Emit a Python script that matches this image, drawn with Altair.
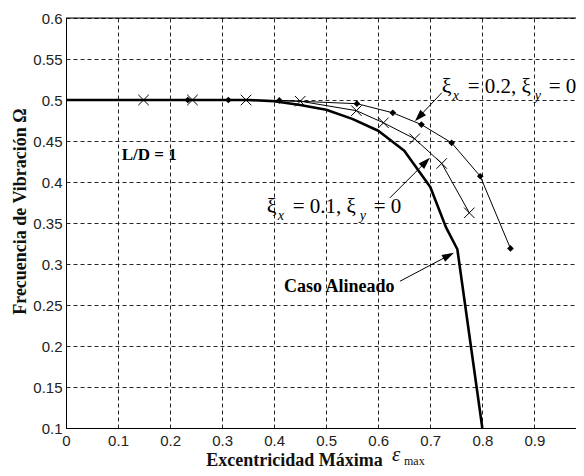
import math
import altair as alt
import pandas as pd

# ---------------- data ----------------
# Caso Alineado (thick line)
al_x = [0.0, 0.35, 0.40, 0.45, 0.50, 0.55, 0.60, 0.65, 0.70, 0.73, 0.752, 0.80]
al_y = [0.5, 0.5, 0.4985, 0.494, 0.488, 0.477, 0.4625, 0.438, 0.394, 0.345, 0.318, 0.10]

# xi_x = 0.1, xi_y = 0  (x markers)
s1_x = [0.149, 0.243, 0.346, 0.45, 0.558, 0.61, 0.67, 0.722, 0.775]
s1_y = [0.5, 0.5, 0.5, 0.4985, 0.487, 0.4722, 0.4527, 0.4226, 0.3624]

# xi_x = 0.2, xi_y = 0  (diamond markers)
s2_x = [0.234, 0.312, 0.41, 0.559, 0.628, 0.683, 0.741, 0.796, 0.854]
s2_y = [0.5, 0.5, 0.4995, 0.4955, 0.4844, 0.470, 0.4478, 0.407, 0.319]

x_ticks = [0, 0.1, 0.2, 0.3, 0.4, 0.5, 0.6, 0.7, 0.8, 0.9]
y_ticks = [0.1, 0.15, 0.2, 0.25, 0.3, 0.35, 0.4, 0.45, 0.5, 0.55, 0.6]

# arrows: (start x, start y, tip x, tip y)
arrows = [
    (0.722, 0.5088, 0.6705, 0.4741),
    (0.6225, 0.3807, 0.6993, 0.4295),
    (0.6417, 0.279, 0.7454, 0.3137),
]

# ---------------- layout ----------------
W, H = 510, 410
XMAX = 0.98
PX = W / XMAX          # pixels per x unit
PY = H / 0.5           # pixels per y unit
SERIF = "Liberation Serif"
SANS = "Liberation Sans"

xs = alt.Scale(domain=[0, XMAX], nice=False, zero=False)
ys = alt.Scale(domain=[0.1, 0.6], nice=False, zero=False)

x_axis = alt.Axis(
    values=x_ticks, format=".1~f", labelFont=SANS, labelFontSize=15,
    labelColor="#222", labelPadding=5, labelFlush=False, tickSize=0,
    domainColor="black", grid=True, gridColor="black", gridDash=[4, 3],
    gridOpacity=0.85, title="Excentricidad Máxima", titleFont=SERIF,
    titleFontWeight="bold", titleFontSize=18, titleColor="#111",
    titleX=228, titleY=37, titleAlign="center", titleBaseline="alphabetic",
)
y_axis = alt.Axis(
    values=y_ticks, format=".2~f", labelFont=SANS, labelFontSize=15,
    labelColor="#222", labelPadding=4, tickSize=0,
    domainColor="black", grid=True, gridColor="black", gridDash=[4, 3],
    gridOpacity=0.85, title="Frecuencia de Vibración Ω", titleFont=SERIF,
    titleFontWeight="bold", titleFontSize=18, titleColor="#111",
    titleX=-41, titleY=193, titleAlign="center", titleBaseline="alphabetic",
)


def X(field="x"):
    return alt.X(f"{field}:Q", scale=xs, axis=x_axis)


def Y(field="y"):
    return alt.Y(f"{field}:Q", scale=ys, axis=y_axis)


al_df = pd.DataFrame({"x": al_x, "y": al_y, "o": range(len(al_x))})
s1_df = pd.DataFrame({"x": s1_x, "y": s1_y, "o": range(len(s1_x))})
s2_df = pd.DataFrame({"x": s2_x, "y": s2_y, "o": range(len(s2_x))})

layers = []

# top border
layers.append(
    alt.Chart(pd.DataFrame({"y": [0.6]})).mark_rule(color="black", strokeWidth=1)
    .encode(y=Y())
)

layers.append(
    alt.Chart(s2_df).mark_line(color="black", strokeWidth=1)
    .encode(x=X(), y=Y(), order="o:Q")
)
layers.append(
    alt.Chart(s1_df).mark_line(color="black", strokeWidth=1)
    .encode(x=X(), y=Y(), order="o:Q")
)
layers.append(
    alt.Chart(al_df).mark_line(color="black", strokeWidth=2.6, strokeJoin="round")
    .encode(x=X(), y=Y(), order="o:Q")
)
layers.append(
    alt.Chart(s1_df).mark_point(shape="M-1,-1L1,1M-1,1L1,-1", size=110,
                                filled=False, color="black", strokeWidth=1, opacity=1)
    .encode(x=X(), y=Y())
)
layers.append(
    alt.Chart(s2_df).mark_point(shape="diamond", size=45, filled=True,
                                color="black", opacity=1)
    .encode(x=X(), y=Y())
)

# arrows
shaft_rows, head_rows = [], []
HL = 12.0
for sx, sy, tx, ty in arrows:
    dxp = (tx - sx) * PX
    dyp = -(ty - sy) * PY
    ln = math.hypot(dxp, dyp)
    ux, uy = dxp / ln, dyp / ln
    cx = tx - (HL / 2) * ux / PX
    cy = ty + (HL / 2) * uy / PY
    ang = math.degrees(math.atan2(dxp, -dyp)) % 360
    shaft_rows.append({"x": sx, "y": sy, "x2": cx, "y2": cy})
    head_rows.append({"x": cx, "y": cy, "a": ang})

layers.append(
    alt.Chart(pd.DataFrame(shaft_rows)).mark_rule(color="black", strokeWidth=1)
    .encode(x=X(), y=Y(), x2="x2:Q", y2="y2:Q")
)
layers.append(
    alt.Chart(pd.DataFrame(head_rows)).mark_point(
        shape="M0,-1L0.65,1L-0.65,1Z", size=HL * HL, filled=True,
        color="black", opacity=1)
    .encode(x=X(), y=Y(), angle=alt.Angle("a:Q", scale=None))
)

# text annotations: (x, y, text, size, weight, style)
texts = [
    (0.107, 0.4268, "L/D = 1", 17, "bold", "normal"),
    (0.419, 0.2662, "Caso Alineado", 18, "bold", "normal"),
]
for anchor_x, anchor_y in [(0.722, 0.5082), (0.3856, 0.3628)]:
    val = "0.2" if anchor_x > 0.5 else "0.1"
    texts += [
        (anchor_x, anchor_y, "ξ", 22, "normal", "normal"),
        (anchor_x + 11 / PX, anchor_y - 7 / PY, "x", 14, "normal", "italic"),
        (anchor_x + 26 / PX, anchor_y, f"= {val}, ξ", 21, "normal", "normal"),
        (anchor_x + 93 / PX, anchor_y - 7 / PY, "y", 14, "normal", "italic"),
        (anchor_x + 107 / PX, anchor_y, "= 0", 21, "normal", "normal"),
    ]
for tx, ty, tt, fs, fw, st in texts:
    layers.append(
        alt.Chart(pd.DataFrame({"x": [tx], "y": [ty], "t": [tt]}))
        .mark_text(font=SERIF, fontSize=fs, fontWeight=fw, fontStyle=st,
                   align="left", baseline="alphabetic", color="black")
        .encode(x=X(), y=Y(), text="t:N")
    )

# epsilon_max part of the x title
layers.append(
    alt.Chart(pd.DataFrame({"x": [0.6265], "y": [0.1], "t": ["ε"]}))
    .mark_text(font=SERIF, fontSize=21, fontStyle="italic", align="left",
               baseline="alphabetic", dy=33, color="#111")
    .encode(x=X(), y=Y(), text="t:N")
)
layers.append(
    alt.Chart(pd.DataFrame({"x": [0.6495], "y": [0.1], "t": ["max"]}))
    .mark_text(font=SERIF, fontSize=12, align="left",
               baseline="alphabetic", dy=37, color="#111")
    .encode(x=X(), y=Y(), text="t:N")
)

chart = (
    alt.layer(*layers)
    .properties(width=W, height=H,
                padding={"left": 58, "top": 10, "right": 0, "bottom": 40},
                autosize=alt.AutoSizeParams(type="none"))
    .configure_view(stroke=None)
    .configure(background="white")
)

chart.save("out.html", embed_options={"renderer": "svg", "actions": False})
